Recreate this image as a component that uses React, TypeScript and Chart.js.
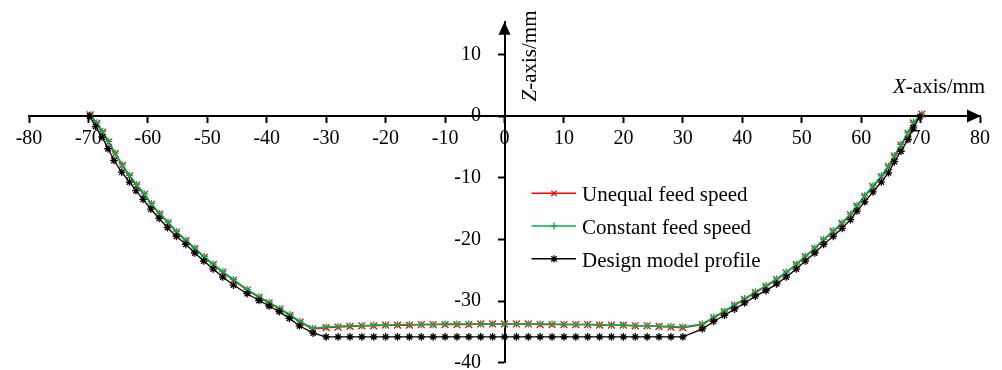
import React, { useEffect, useRef } from 'react';
import { Chart, registerables } from 'chart.js';

Chart.register(...registerables);

const FONT = "'Liberation Serif', 'Times New Roman', serif";

// Design model profile (black)
const designX = [
  -69.8, -68.8, -67.7, -66.7, -65.7, -64.4, -63.1, -62.0, -60.8, -59.5, -58.1, -56.7, -55.2,
  -53.6, -52.1, -50.6, -49.0, -47.4, -45.6, -43.3, -41.3, -39.6, -37.9, -36.2, -34.5, -32.2,
  -30, -28, -26, -24, -22, -20, -18, -16, -14, -12, -10, -8, -6, -4, -2, 0,
  2, 4, 6, 8, 10, 12, 14, 16, 18, 20, 22, 24, 26, 28, 30,
  33.3, 35.2, 37.0, 38.7, 40.4, 42.2, 44.0, 45.8, 47.4, 49.1, 50.6, 52.2, 53.7,
  55.3, 56.8, 58.2, 59.3, 60.6, 62.0, 63.4, 64.6, 65.6, 66.7, 67.9, 68.8, 69.9,
];
const designZ = [
  0, -1.7, -3.4, -5.3, -7.2, -9.1, -10.7, -12.1, -13.5, -15.1, -16.6, -18.1, -19.5,
  -20.8, -22.2, -23.5, -24.8, -26.1, -27.4, -28.8, -29.9, -30.8, -31.7, -32.8, -34.0, -35.2,
  -35.8, -35.8, -35.8, -35.8, -35.8, -35.8, -35.8, -35.8, -35.8, -35.8, -35.8, -35.8, -35.8, -35.8, -35.8, -35.8,
  -35.8, -35.8, -35.8, -35.8, -35.8, -35.8, -35.8, -35.8, -35.8, -35.8, -35.8, -35.8, -35.8, -35.8, -35.8,
  -34.5, -33.3, -32.3, -31.3, -30.3, -29.2, -28.3, -27.2, -26.1, -24.8, -23.5, -22.2, -20.8,
  -19.5, -18.2, -16.8, -15.4, -13.9, -12.3, -10.7, -9.2, -7.4, -5.7, -3.8, -1.9, -0.1,
];

// Measured positions shared by both machined profiles
const measuredX = [
  -69.7, -68.6, -67.6, -66.6, -65.5, -64.3, -63.1, -61.9, -60.6, -59.4, -58.0, -56.6, -55.2,
  -53.6, -52.1, -50.5, -49.0, -47.4, -45.6, -43.3, -41.3, -39.6, -37.8, -36.1, -34.4, -32.3,
  -30, -28, -26, -24, -22, -20, -18, -16, -14, -12, -10, -8, -6, -4, -2, 0,
  2, 4, 6, 8, 10, 12, 14, 16, 18, 20, 22, 24, 26, 28, 30,
  33.3, 35.2, 37.0, 38.7, 40.4, 42.2, 44.0, 45.8, 47.4, 49.1, 50.6, 52.2, 53.7,
  55.3, 56.8, 58.2, 59.3, 60.6, 62.0, 63.4, 64.6, 65.6, 66.7, 67.9, 68.8, 70.2,
];
// Unequal feed speed (red)
const unequalZ = [
  0.2, -1.2, -2.6, -4.2, -6.1, -8.0, -9.7, -11.2, -12.7, -14.3, -15.9, -17.3, -18.8,
  -20.2, -21.5, -22.9, -24.1, -25.3, -26.6, -28.2, -29.4, -30.3, -31.3, -32.3, -33.4, -34.5,
  -34.3, -34.2, -34.1, -34.0, -34.0, -33.9, -33.9, -33.9, -33.8, -33.8, -33.8, -33.8, -33.8, -33.7, -33.7, -33.7,
  -33.7, -33.7, -33.8, -33.8, -33.8, -33.8, -33.8, -33.9, -33.9, -33.9, -34.0, -34.0, -34.1, -34.2, -34.3,
  -33.8, -32.7, -31.7, -30.7, -29.7, -28.6, -27.6, -26.5, -25.4, -24.1, -22.8, -21.5, -20.1,
  -18.7, -17.4, -16.0, -14.6, -13.0, -11.4, -9.8, -8.2, -6.5, -4.7, -2.8, -1.1, 0.3,
];
// Constant feed speed (green)
const constantZ = [
  0.2, -1.1, -2.5, -4.1, -6.0, -7.9, -9.6, -11.1, -12.6, -14.2, -15.8, -17.2, -18.7,
  -20.1, -21.4, -22.8, -24.0, -25.2, -26.5, -28.1, -29.3, -30.2, -31.2, -32.2, -33.3, -34.4,
  -34.2, -34.1, -34.0, -34.0, -33.9, -33.9, -33.8, -33.8, -33.8, -33.8, -33.7, -33.7, -33.7, -33.7, -33.7, -33.7,
  -33.7, -33.7, -33.7, -33.7, -33.8, -33.8, -33.8, -33.8, -33.9, -33.9, -34.0, -34.0, -34.1, -34.1, -34.2,
  -33.7, -32.6, -31.6, -30.6, -29.6, -28.5, -27.5, -26.4, -25.3, -24.0, -22.7, -21.4, -20.0,
  -18.6, -17.3, -15.9, -14.5, -12.9, -11.3, -9.7, -8.1, -6.4, -4.6, -2.7, -1.0, 0.3,
];

const seriesNames = ['Unequal feed speed', 'Constant feed speed', 'Design model profile'];
const seriesColors = ['#FF0000', '#00B050', '#000000'];
const seriesMarkers = ['crossRot', 'cross', 'star'];

const xTickValues = [-80, -70, -60, -50, -40, -30, -20, -10, 0, 10, 20, 30, 40, 50, 60, 70, 80];
const yTickValues = [-40, -30, -20, -10, 0, 10];
const xTitle = ['X', '-axis/mm'];
const yTitle = ['Z', '-axis/mm'];

function drawMarker(ctx: CanvasRenderingContext2D, style: string, x: number, y: number, r: number) {
  ctx.beginPath();
  if (style === 'cross' || style === 'star') {
    ctx.moveTo(x - r, y); ctx.lineTo(x + r, y);
    ctx.moveTo(x, y - r); ctx.lineTo(x, y + r);
  }
  if (style === 'crossRot' || style === 'star') {
    const d = r * 0.75;
    ctx.moveTo(x - d, y - d); ctx.lineTo(x + d, y + d);
    ctx.moveTo(x - d, y + d); ctx.lineTo(x + d, y - d);
  }
  ctx.stroke();
}

const overlayPlugin = {
  id: 'overlayPlugin',
  afterDraw(chart: any) {
    const { ctx, chartArea, scales } = chart;
    const x0 = scales.x.getPixelForValue(0);
    const y0 = scales.y.getPixelForValue(0);
    ctx.save();
    ctx.fillStyle = '#000';
    // arrow heads
    ctx.beginPath();
    ctx.moveTo(chartArea.right + 1, y0);
    ctx.lineTo(chartArea.right - 13, y0 - 6.5);
    ctx.lineTo(chartArea.right - 13, y0 + 6.5);
    ctx.closePath();
    ctx.fill();
    ctx.beginPath();
    ctx.moveTo(x0, chartArea.top);
    ctx.lineTo(x0 - 6, chartArea.top + 13);
    ctx.lineTo(x0 + 6, chartArea.top + 13);
    ctx.closePath();
    ctx.fill();

    // y tick labels (left of the axis, beyond the tick marks)
    ctx.font = `20px ${FONT}`;
    ctx.textAlign = 'right';
    ctx.textBaseline = 'middle';
    scales.y.ticks.forEach((t: any) => {
      ctx.fillText(String(t.value), x0 - 23.5, scales.y.getPixelForValue(t.value));
    });

    // axis titles
    ctx.textBaseline = 'alphabetic';
    ctx.textAlign = 'left';
    ctx.font = `italic 21px ${FONT}`;
    const tx = 893;
    const ty = 93;
    ctx.fillText(xTitle[0], tx, ty);
    const w0 = ctx.measureText(xTitle[0]).width;
    ctx.font = `21px ${FONT}`;
    ctx.fillText(xTitle[1], tx + w0, ty);

    ctx.save();
    ctx.translate(536, 101.5);
    ctx.rotate(-Math.PI / 2);
    ctx.font = `italic 21px ${FONT}`;
    ctx.fillText(yTitle[0], 0, 0);
    const w1 = ctx.measureText(yTitle[0]).width;
    ctx.font = `21px ${FONT}`;
    ctx.fillText(yTitle[1], w1, 0);
    ctx.restore();

    // legend
    const rows = [193.3, 225.9, 258.8];
    ctx.font = `21px ${FONT}`;
    seriesNames.forEach((name, i) => {
      const ly = rows[i];
      ctx.strokeStyle = seriesColors[i];
      ctx.lineWidth = 1.5;
      ctx.beginPath();
      ctx.moveTo(531.5, ly);
      ctx.lineTo(576, ly);
      ctx.stroke();
      ctx.lineWidth = 1.3;
      drawMarker(ctx, seriesMarkers[i], 554, ly, 3.6);
      ctx.fillStyle = '#000';
      ctx.fillText(name, 582, ly + 8);
    });
    ctx.restore();
  },
};

export default function App() {
  const canvasRef = useRef<HTMLCanvasElement | null>(null);

  useEffect(() => {
    const canvas = canvasRef.current;
    if (!canvas) return;
    const mk = (xs: number[], zs: number[]) => xs.map((x, i) => ({ x, y: zs[i] }));
    const chart = new Chart(canvas, {
      type: 'scatter',
      data: {
        datasets: [
          {
            label: seriesNames[0],
            data: mk(measuredX, unequalZ),
            showLine: true,
            borderColor: seriesColors[0],
            backgroundColor: seriesColors[0],
            borderWidth: 1.5,
            pointStyle: 'crossRot',
            pointRadius: 4.8,
            pointBorderWidth: 1.3,
            pointBorderColor: seriesColors[0],
            order: 3,
          },
          {
            label: seriesNames[1],
            data: mk(measuredX, constantZ),
            showLine: true,
            borderColor: seriesColors[1],
            backgroundColor: seriesColors[1],
            borderWidth: 1.6,
            pointStyle: 'cross',
            pointRadius: 3.6,
            pointBorderWidth: 1.3,
            pointBorderColor: seriesColors[1],
            order: 2,
          },
          {
            label: seriesNames[2],
            data: mk(designX, designZ),
            showLine: true,
            borderColor: seriesColors[2],
            backgroundColor: seriesColors[2],
            borderWidth: 1.3,
            pointStyle: 'star',
            pointRadius: 3.8,
            pointBorderWidth: 1.3,
            pointBorderColor: seriesColors[2],
            order: 1,
          },
        ],
      },
      options: {
        animation: false,
        responsive: false,
        devicePixelRatio: 1,
        layout: { padding: { left: 29, right: 22, top: 21.7, bottom: 7.2 } },
        plugins: { legend: { display: false }, tooltip: { enabled: false } },
        scales: {
          x: {
            type: 'linear',
            min: -80,
            max: 80,
            position: { y: 0 } as any,
            border: { display: true, color: '#000', width: 2 },
            grid: { drawOnChartArea: false, drawTicks: true, tickLength: 6, tickWidth: 2, tickColor: '#000' } as any,
            ticks: {
              stepSize: 10,
              color: '#000',
              padding: 5,
              maxRotation: 0,
              autoSkip: false,
              font: { family: FONT, size: 20 },
            },
            afterBuildTicks: (s: any) => { s.ticks = xTickValues.map((v) => ({ value: v })); },
            afterFit: (s: any) => { s.paddingLeft = 0; s.paddingRight = 0; s.paddingTop = 0; s.paddingBottom = 0; },
          },
          y: {
            type: 'linear',
            min: -40,
            max: 15.3,
            position: { x: 0 } as any,
            border: { display: true, color: '#000', width: 2 },
            grid: { drawOnChartArea: false, drawTicks: true, tickLength: 6, tickWidth: 2, tickColor: '#000' } as any,
            ticks: {
              display: false,
              color: '#000',
              autoSkip: false,
              font: { family: FONT, size: 20 },
            },
            afterBuildTicks: (s: any) => { s.ticks = yTickValues.map((v) => ({ value: v })); },
            afterFit: (s: any) => { s.paddingLeft = 0; s.paddingRight = 0; s.paddingTop = 0; s.paddingBottom = 0; },
          },
        },
      },
      plugins: [overlayPlugin],
    } as any);
    return () => chart.destroy();
  }, []);

  return (
    <div style={{ position: 'absolute', left: 0, top: 0, width: 1002, height: 370, background: '#fff' }}>
      <canvas ref={canvasRef} width={1002} height={370} style={{ display: 'block' }} />
    </div>
  );
}
